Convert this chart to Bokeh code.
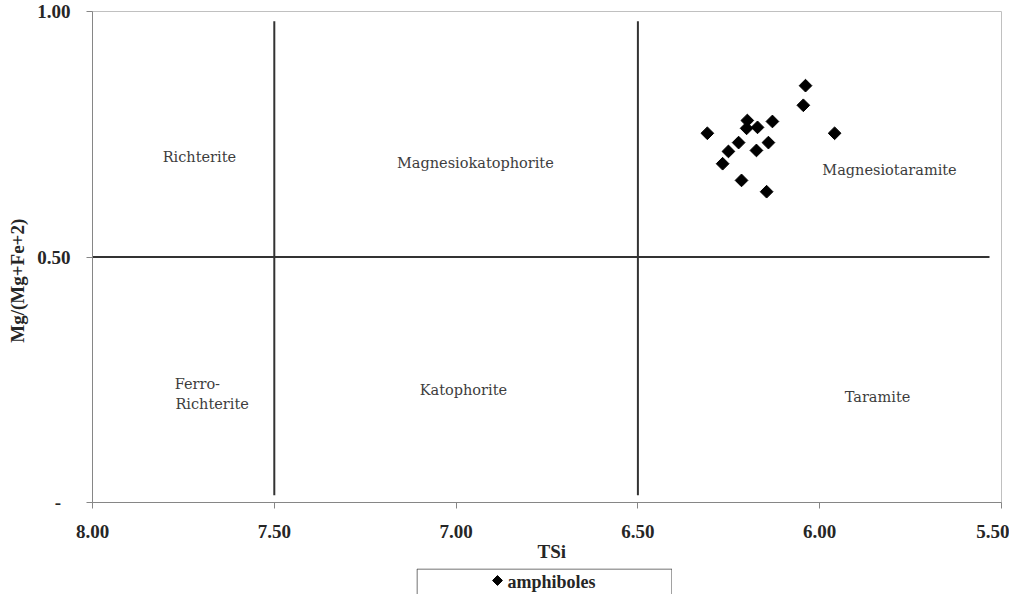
from bokeh.plotting import figure
from bokeh.models import Range1d, FixedTicker, Label, ColumnDataSource, Spacer
from bokeh.layouts import column, row
from bokeh.embed import file_html
from bokeh.resources import INLINE
from bokeh.core.properties import value

# ---- data ----
tsi = [6.039, 6.045, 6.309, 6.199, 6.201, 6.171, 6.130, 5.959,
       6.223, 6.251, 6.141, 6.174, 6.267, 6.215, 6.146]
mg_ratio = [0.849, 0.809, 0.752, 0.778, 0.762, 0.764, 0.776, 0.752,
            0.733, 0.715, 0.733, 0.717, 0.690, 0.656, 0.633]
series_name = "amphiboles"

x_ticks = [8.0, 7.5, 7.0, 6.5, 6.0, 5.5]
x_tick_labels = ["8.00", "7.50", "7.00", "6.50", "6.00", "5.50"]
y_ticks = [0.0, 0.5, 1.0]
y_tick_labels = ["-\u2007", "0.50", "1.00"]

# field boundaries (TSi = 7.5, 6.5 ; Mg ratio = 0.5)
boundary_tsi = [7.5, 6.5]
boundary_mg = [0.5]

field_names = ["Richterite", "Magnesiokatophorite", "Magnesiotaramite",
               "Ferro-", "Richterite", "Katophorite", "Taramite"]
field_x = [7.706, 6.947, 5.808, 7.774, 7.772, 6.980, 5.841]
field_y = [0.703, 0.692, 0.678, 0.242, 0.200, 0.230, 0.214]
field_align = ["center", "center", "center", "left", "left", "center", "center"]

TICK_FONT = "Liberation Serif"

p = figure(width=1009, height=568, x_range=Range1d(8.0, 5.5), y_range=Range1d(0.0, 1.0),
           output_backend="svg", toolbar_location=None,
           min_border_left=92, min_border_right=8, min_border_top=11, min_border_bottom=66)
p.xgrid.visible = False
p.ygrid.visible = False
p.outline_line_color = "#c0c0c0"
p.outline_line_width = 1

for ax in (p.xaxis[0], p.yaxis[0]):
    ax.axis_line_color = "#868686"
    ax.axis_line_width = 1
    ax.major_tick_line_color = "#868686"
    ax.minor_tick_line_color = None
    ax.major_tick_in = 0
    ax.major_tick_out = 6
    ax.major_label_text_font = TICK_FONT
    ax.major_label_text_font_style = "bold"
    ax.major_label_text_font_size = "19px"
    ax.major_label_text_color = "#262626"
    ax.axis_label_text_font = TICK_FONT
    ax.axis_label_text_font_style = "bold"
    ax.axis_label_text_font_size = "19px"
    ax.axis_label_text_color = "#262626"

p.xaxis[0].ticker = FixedTicker(ticks=x_ticks)
p.xaxis[0].major_label_overrides = dict(zip(x_ticks, x_tick_labels))
p.xaxis[0].axis_label = "\u2007TSi"
p.xaxis[0].major_label_standoff = 16
p.xaxis[0].axis_label_standoff = 0

p.yaxis[0].ticker = FixedTicker(ticks=y_ticks)
p.yaxis[0].major_label_overrides = dict(zip(y_ticks, y_tick_labels))
# title sits a little below the axis centre in the reference
p.yaxis[0].axis_label = "Mg/(Mg+Fe+2)" + "\u2007" * 5
p.yaxis[0].major_label_standoff = 16
p.yaxis[0].axis_label_standoff = 6

# field boundaries
p.segment(x0=boundary_tsi, x1=boundary_tsi, y0=[0.015] * len(boundary_tsi),
          y1=[0.98] * len(boundary_tsi), line_color="#333333", line_width=2)
p.segment(x0=[8.0] * len(boundary_mg), x1=[5.533] * len(boundary_mg),
          y0=boundary_mg, y1=boundary_mg, line_color="#333333", line_width=2)

# field names
for name, fx, fy, al in zip(field_names, field_x, field_y, field_align):
    p.add_layout(Label(x=fx, y=fy, text=name, text_align=al, text_baseline="middle",
                       text_font="DejaVu Serif", text_font_size="14.5px",
                       text_color="#3d3d3d"))

# data
src = ColumnDataSource(dict(x=tsi, y=mg_ratio))
p.scatter("x", "y", source=src, marker="square", size=9, angle=0.785,
          fill_color="black", line_color="black")

# legend box (its lower edge is cut off by the page, as in the reference)
LW, LH = 256, 26
lg = figure(width=LW, height=LH, x_range=Range1d(0, LW), y_range=Range1d(0, LH),
            output_backend="svg", toolbar_location=None, min_border=0,
            x_axis_type=None, y_axis_type=None)
lg.xgrid.visible = False
lg.ygrid.visible = False
lg.outline_line_color = None
lg.segment(x0=[0.5, 0.5, LW - 0.5], x1=[0.5, LW - 0.5, LW - 0.5],
           y0=[0, LH - 0.5, LH - 0.5], y1=[LH - 0.5, LH - 0.5, 0],
           line_color="#444444", line_width=1)
lg.scatter(x=[81], y=[LH - 12], marker="square", size=7, angle=0.785,
           fill_color="black", line_color="black")
lg.text(x=[91], y=[LH - 13], text=[series_name], text_font=value(TICK_FONT),
        text_font_style="bold", text_font_size="18px", text_color="#262626",
        text_baseline="middle", text_align="left")

layout = column(p, row(Spacer(width=416, height=LH), lg))
open("out.html", "w").write(file_html(layout, INLINE))
